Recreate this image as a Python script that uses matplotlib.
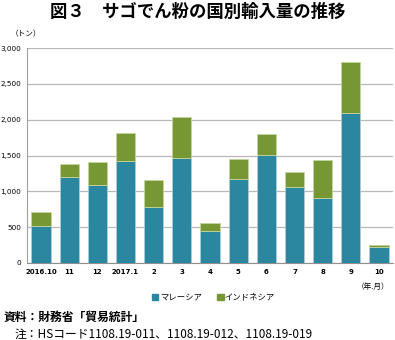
import numpy as np
import matplotlib
matplotlib.use('Agg')
import matplotlib.pyplot as plt
from matplotlib.patches import Rectangle

plt.rcParams['font.family'] = ['Noto Sans CJK JP', 'DejaVu Sans']

months = ['2016.10', '11', '12', '2017.1', '2', '3', '4', '5', '6', '7', '8', '9', '10']
malaysia = [520, 1204, 1084, 1428, 777, 1470, 451, 1167, 1507, 1065, 907, 2098, 228]
indonesia = [187, 182, 321, 382, 381, 572, 107, 289, 288, 205, 526, 702, 23]
yticks = [0, 500, 1000, 1500, 2000, 2500, 3000]

c_my = '#2b86a0'
c_id = '#779735'

fig = plt.figure(figsize=(3.95, 3.4), dpi=100)
ax = fig.add_axes([0.068, 0.2265, 0.927, 0.632])

x = np.arange(len(months))
ax.bar(x, malaysia, width=0.68, color=c_my, edgecolor='#a9cdd8', linewidth=0.6, zorder=3)
ax.bar(x, indonesia, width=0.68, bottom=malaysia, color=c_id, edgecolor='#c4d6a0', linewidth=0.6, zorder=3)

ax.set_xlim(-0.5, 12.5)
ax.set_ylim(0, 3000)
ax.set_yticks(yticks)
ax.set_yticklabels([f'{v:,}' for v in yticks], fontsize=5.2, family='DejaVu Sans')
ax.set_xticks(x)
ax.set_xticklabels(months, fontsize=5, family='DejaVu Sans', fontweight='bold')
ax.tick_params(length=0, pad=4)
ax.grid(axis='y', color='#b8b8b8', linewidth=0.9, zorder=0)
for s in ['top', 'right']:
    ax.spines[s].set_visible(False)
ax.spines['left'].set_color('#a0a0a0')
ax.spines['bottom'].set_color('#909090')

fig.text(0.5, 0.965, '図３　サゴでん粉の国別輸入量の推移', ha='center', va='center',
         fontsize=12.5, fontweight='bold')
fig.text(0.065, 0.9, '（トン）', ha='center', va='center', fontsize=5.5)
fig.text(0.985, 0.155, '（年.月）', ha='right', va='center', fontsize=5.5)

# 凡例
fig.patches.append(Rectangle((0.385, 0.118), 0.016, 0.018, transform=fig.transFigure, color=c_my))
fig.text(0.405, 0.127, 'マレーシア', ha='left', va='center', fontsize=6)
fig.patches.append(Rectangle((0.55, 0.118), 0.016, 0.018, transform=fig.transFigure, color=c_id))
fig.text(0.567, 0.127, 'インドネシア', ha='left', va='center', fontsize=6)

fig.text(0.01, 0.066, '資料：財務省「貿易統計」', ha='left', va='center', fontsize=8.5, fontweight='bold')
fig.text(0.037, 0.017, '注：HSコード1108.19-011、1108.19-012、1108.19-019', ha='left', va='center', fontsize=8.5)

fig.savefig('out.png', dpi=100)
